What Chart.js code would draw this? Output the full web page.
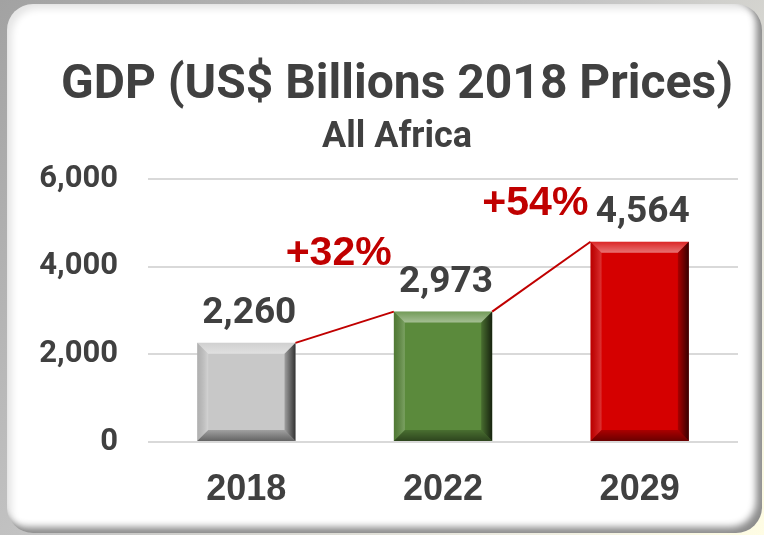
<!DOCTYPE html>
<html>
<head>
<meta charset="utf-8">
<script src="https://cdn.jsdelivr.net/npm/chart.js@4.4.1/dist/chart.umd.min.js"></script>
<style>
	html, body {
		margin: 0;
		padding: 0;
	}
	body {
		width: 764px;
		height: 535px;
		position: relative;
		overflow: hidden;
		background: linear-gradient(135deg, #a2a2a2 0%, #c4c4c4 45%, #ecebe0 80%, #fffde4 100%);
	}
	#panel {
		position: absolute;
		left: 7px;
		top: 4px;
		width: 755px;
		height: 529px;
		border-radius: 26px;
		background: #ffffff;
		box-shadow: inset 5px 5px 7px rgba(0, 0, 0, 0.10), inset -6px -6px 7px rgba(0, 0, 0, 0.45);
	}
	#myChart {
		position: absolute;
		left: 0;
		top: 0;
	}
</style>
</head>
<body>
<div id="panel"></div>
<canvas id="myChart" width="764" height="535"></canvas>
<script>
const years = ["2018", "2022", "2029"];
const gdp = [2260, 2973, 4564];
const growthLabels = ["+32%", "+54%"];
const barColors = ["#c8c8c8", "#5b8a3c", "#d50000"];
const yTicks = [0, 2000, 4000, 6000];

const textGray = "#404040";
const growthRed = "#c00000";

// bevelled look of the bars, drawn over each bar element
const bevelPlugin = {
	id: "bevel",
	afterDatasetsDraw(chart) {
		const c = chart.ctx;
		const meta = chart.getDatasetMeta(0);
		meta.data.forEach((bar) => {
			const l = bar.x - bar.width / 2;
			const r = bar.x + bar.width / 2;
			const t = bar.y;
			const b = bar.base;
			const d = 11;
			c.save();
			// top
			let g = c.createLinearGradient(0, t, 0, t + d);
			g.addColorStop(0, "rgba(255,255,255,0.15)");
			g.addColorStop(1, "rgba(255,255,255,0.45)");
			c.fillStyle = g;
			c.beginPath();
			c.moveTo(l, t); c.lineTo(r, t); c.lineTo(r - d, t + d); c.lineTo(l + d, t + d);
			c.closePath(); c.fill();
			// left
			g = c.createLinearGradient(l, 0, l + d, 0);
			g.addColorStop(0, "rgba(0,0,0,0.12)");
			g.addColorStop(1, "rgba(255,255,255,0.2)");
			c.fillStyle = g;
			c.beginPath();
			c.moveTo(l, t); c.lineTo(l + d, t + d); c.lineTo(l + d, b - d); c.lineTo(l, b);
			c.closePath(); c.fill();
			// right
			g = c.createLinearGradient(r - d, 0, r, 0);
			g.addColorStop(0, "rgba(0,0,0,0.2)");
			g.addColorStop(1, "rgba(0,0,0,0.75)");
			c.fillStyle = g;
			c.beginPath();
			c.moveTo(r, t); c.lineTo(r, b); c.lineTo(r - d, b - d); c.lineTo(r - d, t + d);
			c.closePath(); c.fill();
			// bottom
			g = c.createLinearGradient(0, b - d, 0, b);
			g.addColorStop(0, "rgba(0,0,0,0.2)");
			g.addColorStop(1, "rgba(0,0,0,0.5)");
			c.fillStyle = g;
			c.beginPath();
			c.moveTo(l, b); c.lineTo(r, b); c.lineTo(r - d, b - d); c.lineTo(l + d, b - d);
			c.closePath(); c.fill();
			c.restore();
		});
	},
};

// red growth line between bar tops, value labels and growth labels
const labelPlugin = {
	id: "labels",
	afterDatasetsDraw(chart) {
		const c = chart.ctx;
		const bars = chart.getDatasetMeta(0).data;
		c.save();
		c.strokeStyle = growthRed;
		c.lineWidth = 2;
		for (let i = 0; i < bars.length - 1; i++) {
			const x1 = bars[i].x + bars[i].width / 2;
			const y1 = bars[i].y;
			const x2 = bars[i + 1].x - bars[i + 1].width / 2;
			const y2 = bars[i + 1].y;
			c.beginPath();
			c.moveTo(x1, y1);
			c.lineTo(x2, y2);
			c.stroke();

			c.fillStyle = growthRed;
			c.font = "bold 41px 'Liberation Sans'";
			c.textAlign = "center";
			c.textBaseline = "alphabetic";
			c.fillText(growthLabels[i], (x1 + x2) / 2 - 6, (y1 + y2) / 2 - 62);
		}
		c.fillStyle = textGray;
		c.font = "bold 37px Roboto";
		c.textAlign = "center";
		c.textBaseline = "alphabetic";
		bars.forEach((bar, i) => {
			c.fillText(gdp[i].toLocaleString("en-US"), bar.x + 3, bar.y - 20);
		});
		c.restore();
	},
};

const ctx = document.getElementById("myChart");
const myChart = new Chart(ctx, {
	type: "bar",
	data: {
		labels: years,
		datasets: [
			{
				label: "GDP",
				data: gdp,
				backgroundColor: barColors,
				borderWidth: 0,
				categoryPercentage: 1,
				barPercentage: 0.5,
			},
		],
	},
	options: {
		responsive: false,
		animation: false,
		layout: {
			padding: { top: 57, left: 30, right: 0, bottom: 0 },
		},
		plugins: {
			legend: { display: false },
			tooltip: { enabled: false },
			title: {
				display: true,
				text: "GDP (US$ Billions 2018 Prices)",
				color: textGray,
				font: { family: "Roboto", size: 48, weight: "bold" },
				padding: { top: 0, bottom: 0 },
			},
			subtitle: {
				display: true,
				text: "All Africa",
				color: textGray,
				font: { family: "Roboto", size: 36, weight: "bold" },
				padding: { top: 2, bottom: 19 },
			},
		},
		scales: {
			x: {
				grid: { display: false },
				border: { display: false },
				ticks: {
					color: textGray,
					font: { family: "Liberation Sans", size: 36, weight: "bold" },
					padding: 18,
				},
				afterFit(scale) {
					scale.height = 93;
				},
			},
			y: {
				min: 0,
				max: 6000,
				afterBuildTicks(scale) {
					scale.ticks = yTicks.map((v) => ({ value: v }));
				},
				grid: { color: "#d9d9d9", lineWidth: 2, drawTicks: false },
				border: { display: false },
				ticks: {
					color: textGray,
					font: { family: "Roboto", size: 31, weight: "bold" },
					padding: 30,
					callback: (v) => v.toLocaleString("en-US"),
				},
				afterFit(scale) {
					scale.width = 118;
				},
			},
			// empty right-hand margin so the plot ends where the reference does
			yRight: {
				position: "right",
				display: true,
				grid: { display: false },
				border: { display: false },
				ticks: { display: false },
				afterFit(scale) {
					scale.width = 26;
				},
			},
		},
	},
	plugins: [bevelPlugin, labelPlugin],
});
</script>
</body>
</html>
